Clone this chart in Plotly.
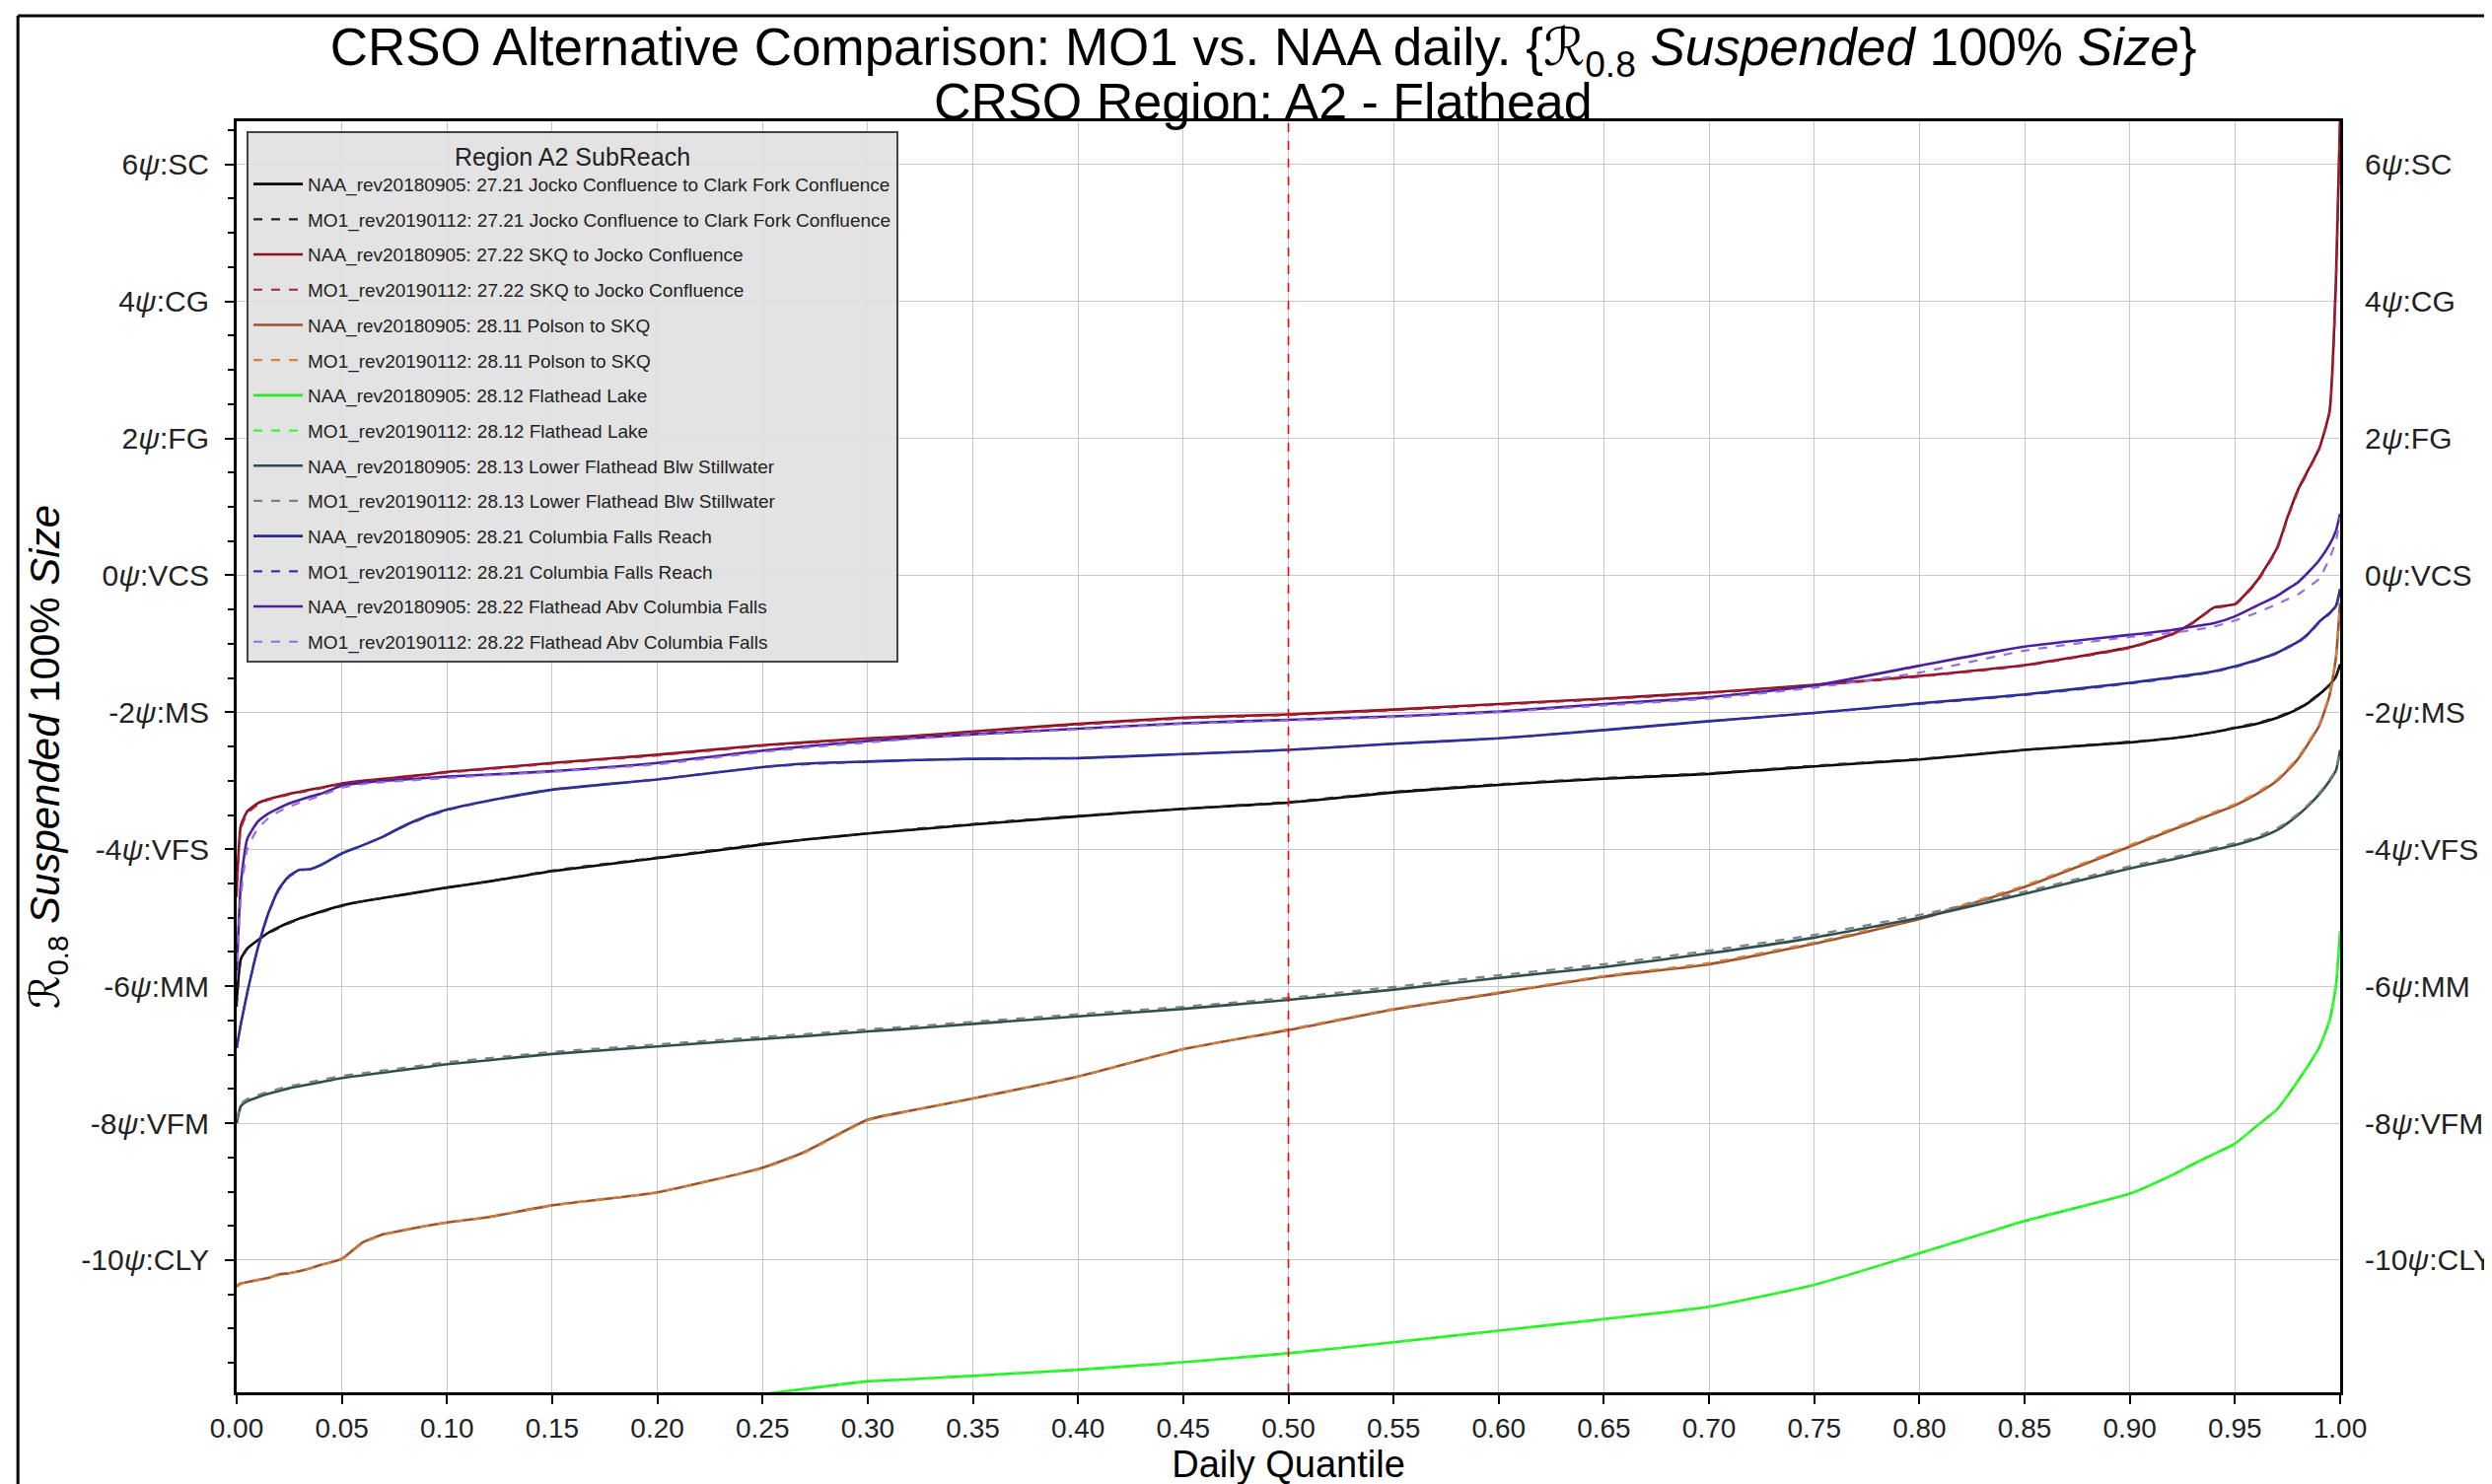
import plotly.graph_objects as go

# daily quantile grid shared by all curves
quantile = [0, 0.002, 0.005, 0.01, 0.015, 0.02, 0.025, 0.03, 0.035, 0.04,
            0.05, 0.06, 0.07, 0.08, 0.09, 0.10, 0.12, 0.15, 0.20, 0.25,
            0.27, 0.30, 0.32, 0.35, 0.40, 0.45, 0.50, 0.55, 0.60, 0.65,
            0.70, 0.75, 0.80, 0.85, 0.90, 0.92, 0.93, 0.94, 0.95, 0.96,
            0.97, 0.975, 0.98, 0.985, 0.99, 0.995, 0.998, 1.0]

# psi values, NAA_rev20180905
naa_2721 = [-6.2, -5.6, -5.45, -5.33, -5.22, -5.14, -5.07, -5.01, -4.96, -4.91,
            -4.82, -4.76, -4.71, -4.66, -4.61, -4.56, -4.47, -4.32, -4.13, -3.93,
            -3.86, -3.77, -3.72, -3.64, -3.52, -3.41, -3.32, -3.17, -3.06, -2.97,
            -2.9, -2.79, -2.69, -2.55, -2.44, -2.38, -2.34, -2.29, -2.23, -2.17,
            -2.08, -2.02, -1.95, -1.86, -1.74, -1.6, -1.48, -1.3]
naa_2722 = [-4.6, -3.65, -3.45, -3.33, -3.27, -3.23, -3.19, -3.16, -3.13, -3.1,
            -3.04, -3.0, -2.97, -2.94, -2.91, -2.87, -2.82, -2.74, -2.62, -2.48,
            -2.44, -2.38, -2.35, -2.28, -2.17, -2.08, -2.03, -1.96, -1.88, -1.8,
            -1.71, -1.6, -1.47, -1.31, -1.05, -0.86, -0.69, -0.47, -0.42, -0.1,
            0.4, 0.85, 1.25, 1.55, 1.85, 2.4, 4.3, 6.7]
naa_2811 = [-10.38, -10.34, -10.32, -10.29, -10.26, -10.21, -10.19, -10.16, -10.12, -10.07,
            -9.98, -9.74, -9.62, -9.56, -9.5, -9.45, -9.37, -9.2, -9.01, -8.65,
            -8.42, -7.95, -7.82, -7.64, -7.32, -6.92, -6.64, -6.34, -6.1, -5.86,
            -5.68, -5.38, -5.02, -4.55, -3.96, -3.72, -3.6, -3.48, -3.36, -3.2,
            -3.0, -2.85, -2.68, -2.45, -2.2, -1.75, -1.2, -0.4]
naa_2812 = [-14.0, -13.8, -13.6, -13.4, -13.3, -13.2, -13.15, -13.1, -13.05, -13.0,
            -12.95, -12.9, -12.85, -12.8, -12.75, -12.7, -12.6, -12.45, -12.2, -11.96,
            -11.88, -11.77, -11.74, -11.69, -11.6, -11.49, -11.36, -11.2, -11.03, -10.86,
            -10.68, -10.36, -9.9, -9.43, -9.03, -8.76, -8.6, -8.45, -8.3, -8.05,
            -7.8, -7.6, -7.38, -7.15, -6.9, -6.5, -6.0, -5.2]
naa_2813 = [-8.0, -7.75, -7.68, -7.62, -7.57, -7.53, -7.49, -7.46, -7.43, -7.4,
            -7.34, -7.3, -7.26, -7.22, -7.18, -7.14, -7.08, -6.99, -6.88, -6.77,
            -6.73, -6.66, -6.62, -6.55, -6.44, -6.33, -6.2, -6.05, -5.88, -5.72,
            -5.52, -5.29, -5.0, -4.65, -4.28, -4.15, -4.08, -4.01, -3.94, -3.85,
            -3.72, -3.62, -3.5, -3.36, -3.2, -3.0, -2.85, -2.55]
naa_2821 = [-6.9, -6.55, -6.1, -5.45, -4.94, -4.58, -4.39, -4.3, -4.29, -4.23,
            -4.06, -3.94, -3.81, -3.65, -3.52, -3.42, -3.29, -3.13, -2.98, -2.8,
            -2.75, -2.72, -2.7, -2.68, -2.67, -2.61, -2.55, -2.46, -2.38, -2.26,
            -2.13, -2.01, -1.87, -1.74, -1.57, -1.49, -1.45, -1.4, -1.33, -1.24,
            -1.13, -1.05, -0.97, -0.85, -0.68, -0.55, -0.45, -0.2]
naa_2822 = [-5.8, -4.5, -3.85, -3.6, -3.48, -3.4, -3.33, -3.28, -3.23, -3.19,
            -3.07, -3.03, -3.0, -2.98, -2.96, -2.94, -2.91, -2.86, -2.74, -2.56,
            -2.5, -2.42, -2.38, -2.32, -2.24, -2.16, -2.11, -2.06, -1.99, -1.88,
            -1.78, -1.61, -1.32, -1.04, -0.87, -0.8, -0.75, -0.7, -0.6, -0.45,
            -0.3, -0.2, -0.1, 0.05, 0.22, 0.45, 0.65, 0.9]

# MO1_rev20190112
mo1_2721 = [-6.3, -5.62, -5.46, -5.33, -5.23, -5.15, -5.08, -5.02, -4.96, -4.92,
            -4.83, -4.76, -4.71, -4.66, -4.61, -4.56, -4.47, -4.31, -4.12, -3.92,
            -3.86, -3.77, -3.71, -3.63, -3.51, -3.41, -3.31, -3.16, -3.05, -2.96,
            -2.89, -2.78, -2.68, -2.55, -2.43, -2.38, -2.34, -2.29, -2.22, -2.16,
            -2.07, -2.01, -1.94, -1.85, -1.73, -1.6, -1.47, -1.3]
mo1_2722 = [-4.7, -3.7, -3.48, -3.35, -3.28, -3.24, -3.2, -3.17, -3.14, -3.11,
            -3.05, -3.01, -2.98, -2.95, -2.92, -2.88, -2.83, -2.75, -2.63, -2.49,
            -2.45, -2.39, -2.35, -2.29, -2.18, -2.09, -2.04, -1.97, -1.89, -1.81,
            -1.72, -1.61, -1.48, -1.32, -1.06, -0.87, -0.7, -0.48, -0.43, -0.12,
            0.38, 0.83, 1.23, 1.53, 1.84, 2.38, 4.25, 6.7]
mo1_2811 = [-10.39, -10.35, -10.32, -10.29, -10.26, -10.22, -10.19, -10.16, -10.12, -10.07,
            -9.99, -9.75, -9.63, -9.56, -9.5, -9.45, -9.37, -9.2, -9.01, -8.66,
            -8.43, -7.96, -7.82, -7.64, -7.32, -6.92, -6.63, -6.33, -6.09, -5.85,
            -5.66, -5.36, -5.0, -4.53, -3.94, -3.7, -3.58, -3.46, -3.34, -3.18,
            -2.98, -2.83, -2.66, -2.43, -2.18, -1.73, -1.2, -0.4]
mo1_2812 = [-14.0, -13.8, -13.6, -13.4, -13.3, -13.2, -13.15, -13.1, -13.05, -13.0,
            -12.95, -12.9, -12.85, -12.8, -12.75, -12.7, -12.6, -12.45, -12.2, -11.96,
            -11.88, -11.77, -11.74, -11.69, -11.6, -11.49, -11.36, -11.2, -11.03, -10.86,
            -10.68, -10.36, -9.9, -9.43, -9.03, -8.76, -8.6, -8.45, -8.3, -8.05,
            -7.8, -7.6, -7.38, -7.15, -6.9, -6.5, -6.0, -5.2]
mo1_2813 = [-7.95, -7.72, -7.65, -7.59, -7.54, -7.5, -7.46, -7.43, -7.4, -7.37,
            -7.31, -7.27, -7.23, -7.19, -7.15, -7.11, -7.05, -6.96, -6.85, -6.74,
            -6.7, -6.63, -6.59, -6.52, -6.41, -6.3, -6.17, -6.01, -5.84, -5.68,
            -5.48, -5.25, -4.96, -4.62, -4.25, -4.12, -4.05, -3.98, -3.91, -3.82,
            -3.69, -3.6, -3.48, -3.34, -3.18, -2.98, -2.83, -2.55]
mo1_2821 = [-6.9, -6.55, -6.1, -5.45, -4.95, -4.6, -4.4, -4.31, -4.29, -4.23,
            -4.07, -3.94, -3.81, -3.66, -3.53, -3.43, -3.29, -3.13, -2.98, -2.8,
            -2.76, -2.72, -2.7, -2.68, -2.67, -2.61, -2.55, -2.46, -2.38, -2.26,
            -2.13, -2.01, -1.88, -1.75, -1.58, -1.5, -1.46, -1.41, -1.34, -1.25,
            -1.14, -1.06, -0.98, -0.86, -0.69, -0.56, -0.45, -0.2]
mo1_2822 = [-5.9, -4.7, -4.0, -3.7, -3.55, -3.45, -3.38, -3.32, -3.27, -3.22,
            -3.1, -3.05, -3.02, -3.0, -2.98, -2.96, -2.92, -2.87, -2.76, -2.58,
            -2.52, -2.44, -2.39, -2.33, -2.25, -2.17, -2.12, -2.07, -2.0, -1.9,
            -1.8, -1.64, -1.42, -1.1, -0.9, -0.84, -0.8, -0.75, -0.66, -0.55,
            -0.42, -0.35, -0.28, -0.17, -0.05, 0.25, 0.5, 0.85]

subreach = ["27.21 Jocko Confluence to Clark Fork Confluence", "27.22 SKQ to Jocko Confluence",
            "28.11 Polson to SKQ", "28.12 Flathead Lake", "28.13 Lower Flathead Blw Stillwater",
            "28.21 Columbia Falls Reach", "28.22 Flathead Abv Columbia Falls"]
naa_series = [naa_2721, naa_2722, naa_2811, naa_2812, naa_2813, naa_2821, naa_2822]
mo1_series = [mo1_2721, mo1_2722, mo1_2811, mo1_2812, mo1_2813, mo1_2821, mo1_2822]

naa_colors = ["#000000", "#8b1020", "#a0522d", "#22ee22", "#2f4f4f", "#2a2a8c", "#4b1fa0"]
mo1_colors = ["#222222", "#a8203c", "#cd853f", "#33ff33", "#808080", "#3535a8", "#9370db"]

y_tickvals = [6, 4, 2, 0, -2, -4, -6, -8, -10]
y_ticktext = ["6<i>ψ</i>:SC", "4<i>ψ</i>:CG", "2<i>ψ</i>:FG", "0<i>ψ</i>:VCS", "-2<i>ψ</i>:MS",
              "-4<i>ψ</i>:VFS", "-6<i>ψ</i>:MM", "-8<i>ψ</i>:VFM", "-10<i>ψ</i>:CLY"]
y_range = [-11.93, 6.63]
median_q = 0.5

FONT = "Liberation Sans, Arial, DejaVu Sans, sans-serif"

fig = go.Figure()
for name, naa, mo1, c_naa, c_mo1 in zip(subreach, naa_series, mo1_series, naa_colors, mo1_colors):
    fig.add_trace(go.Scatter(x=quantile, y=naa, mode="lines", name=f"NAA_rev20180905: {name}",
                             legendgroup="naa" + name,
                             line=dict(color=c_naa, width=2.6, shape="spline", smoothing=0.5)))
    fig.add_trace(go.Scatter(x=quantile, y=mo1, mode="lines", name=f"MO1_rev20190112: {name}",
                             legendgroup="mo1" + name,
                             line=dict(color=c_mo1, width=2.2, dash="dash", shape="spline", smoothing=0.5)))

# empty trace so the right-hand axis gets drawn
fig.add_trace(go.Scatter(x=[None], y=[None], yaxis="y2", showlegend=False, hoverinfo="skip"))

fig.add_shape(type="line", x0=median_q, x1=median_q, y0=0, y1=1, xref="x", yref="paper",
              line=dict(color="red", width=1.6, dash="dash"))
# outer frame (left + top)
fig.add_shape(type="line", xref="paper", yref="paper", x0=-0.104, x1=-0.104, y0=-0.08, y1=1.083,
              line=dict(color="black", width=3))
fig.add_shape(type="line", xref="paper", yref="paper", x0=-0.104, x1=1.08, y0=1.083, y1=1.083,
              line=dict(color="black", width=3))

# second title line sits just above the plot frame
fig.add_annotation(text="CRSO Region: A2 - Flathead", xref="paper", yref="paper",
                   x=0.488, y=1.0155, xanchor="center", yanchor="middle", showarrow=False,
                   font=dict(size=52, family=FONT, color="black"))

fig.update_layout(
    width=2527, height=1505,
    margin=dict(l=232, r=162, t=115, b=101),
    paper_bgcolor="white", plot_bgcolor="white",
    font=dict(family=FONT, color="black"),
    title=dict(
        text="CRSO Alternative Comparison: MO1 vs. NAA daily. {<i>ℛ</i><sub>0.8</sub> <i>Suspended</i> 100% <i>Size</i>}",
        x=0.5038, xanchor="center", y=0.9735, yanchor="middle",
        font=dict(size=53, family=FONT, color="black"),
    ),
    xaxis=dict(
        range=[0, 1], tick0=0, dtick=0.05, tickformat=".2f",
        showgrid=True, gridcolor="#c8c8c8", gridwidth=1, zeroline=False,
        showline=True, linecolor="black", linewidth=3, mirror=True,
        ticks="outside", ticklen=9, tickwidth=2, tickcolor="black",
        tickfont=dict(size=28, color="#222"),
        title=dict(text="Daily Quantile", font=dict(size=38), standoff=0),
        automargin=False,
    ),
    yaxis=dict(
        range=y_range, tickvals=y_tickvals, ticktext=y_ticktext,
        showgrid=True, gridcolor="#c8c8c8", gridwidth=1, zeroline=False,
        showline=True, linecolor="black", linewidth=3, mirror=True,
        ticks="outside", ticklen=9, tickwidth=2, tickcolor="black", ticklabelstandoff=10,
        minor=dict(dtick=0.5, tick0=0, ticks="outside", ticklen=6, tickwidth=1.5,
                   tickcolor="black", showgrid=False),
        tickfont=dict(size=30, color="#222"),
        title=dict(text="<i>ℛ</i><sub>0.8</sub> <i>Suspended</i> 100% <i>Size</i>",
                   font=dict(size=42), standoff=9),
        automargin=False,
    ),
    yaxis2=dict(
        range=y_range, tickvals=y_tickvals, ticktext=y_ticktext, overlaying="y", side="right",
        showgrid=False, zeroline=False, showline=False, ticks="", ticklabelstandoff=24,
        tickfont=dict(size=30, color="#222"), automargin=False,
    ),
    legend=dict(
        x=0.0047, y=0.992, xanchor="left", yanchor="top",
        bgcolor="rgba(224,224,224,0.9)", bordercolor="#444", borderwidth=2,
        font=dict(size=19, color="#222"), tracegroupgap=8, traceorder="grouped",
        itemwidth=50,
        title=dict(text="Region A2 SubReach", side="top center", font=dict(size=25)),
    ),
    showlegend=True,
)

fig.write_html("out.html")
